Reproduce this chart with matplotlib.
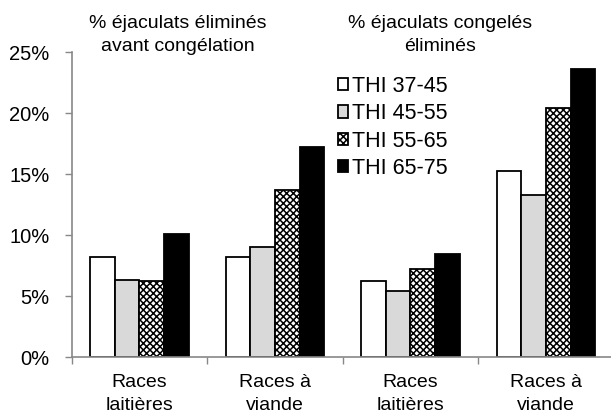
import matplotlib
matplotlib.use("Agg")
import matplotlib.pyplot as plt
import numpy as np

plt.rcParams['font.family'] = ['Liberation Sans', 'DejaVu Sans']
plt.rcParams['hatch.linewidth'] = 1.1

categories = ["Races\nlaitières", "Races à\nviande", "Races\nlaitières", "Races à\nviande"]
series_labels = ["THI 37-45", "THI 45-55", "THI 55-65", "THI 65-75"]
thi_37_45 = [8.25, 8.2, 6.28, 15.3]
thi_45_55 = [6.34, 9.07, 5.4, 13.3]
thi_55_65 = [6.28, 13.71, 7.2, 20.4]
thi_65_75 = [10.08, 17.26, 8.47, 23.63]
y_ticks = [0, 5, 10, 15, 20, 25]
titles = ["% éjaculats éliminés\navant congélation", "% éjaculats congelés\néliminés"]

W, H = 611, 419
fig = plt.figure(figsize=(W / 100, H / 100), dpi=100)
ax_left, ax_bottom = 71.7 / W, (H - 357.3) / H
ax_w, ax_h = 542 / W, 305 / H
ax = fig.add_axes([ax_left, ax_bottom, ax_w, ax_h])

series = [thi_37_45, thi_45_55, thi_55_65, thi_65_75]
styles = [
    dict(facecolor="white", edgecolor="black", hatch=None),
    dict(facecolor="#d9d9d9", edgecolor="black", hatch=None),
    dict(facecolor="white", edgecolor="black", hatch="xxxxx"),
    dict(facecolor="black", edgecolor="black", hatch=None),
]
x = np.arange(len(categories))
bw = 0.182
for i, (vals, st, lab) in enumerate(zip(series, styles, series_labels)):
    ax.bar(x + (i - 1.5) * bw, vals, width=bw, linewidth=1.3, label=lab, **st)

ax.set_xlim(-0.5, 3.5)
ax.set_ylim(0, 25)
ax.set_yticks(y_ticks)
ax.set_yticklabels([f"{t}%" for t in y_ticks], fontsize=14.5)
ax.set_xticks(x)
ax.set_xticklabels(categories, fontsize=14, linespacing=1.45)
ax.tick_params(axis="x", length=0, pad=12)
ax.set_xticks(np.arange(-0.5, 3.6, 1.0), minor=True)
ax.tick_params(axis="x", which="minor", length=5, color="#888888", width=1)
ax.tick_params(axis="y", length=5, color="#888888", width=1, pad=11)
for side in ("top", "right"):
    ax.spines[side].set_visible(False)
for side in ("left", "bottom"):
    ax.spines[side].set_color("#888888")
    ax.spines[side].set_linewidth(1.2)

leg = ax.legend(loc="upper left", frameon=False, fontsize=15.5,
                handlelength=0.5, handleheight=0.5,
                handletextpad=0.15, labelspacing=0.3, borderaxespad=0)
leg.set_bbox_to_anchor((329 / W, (H - 67) / H), transform=fig.transFigure)

fig.text(178 / W, (H - 35) / H, titles[0], ha="center", va="center", fontsize=14, linespacing=1.4)
fig.text(440 / W, (H - 35) / H, titles[1], ha="center", va="center", fontsize=14, linespacing=1.4)

fig.savefig("out.png", dpi=100)
